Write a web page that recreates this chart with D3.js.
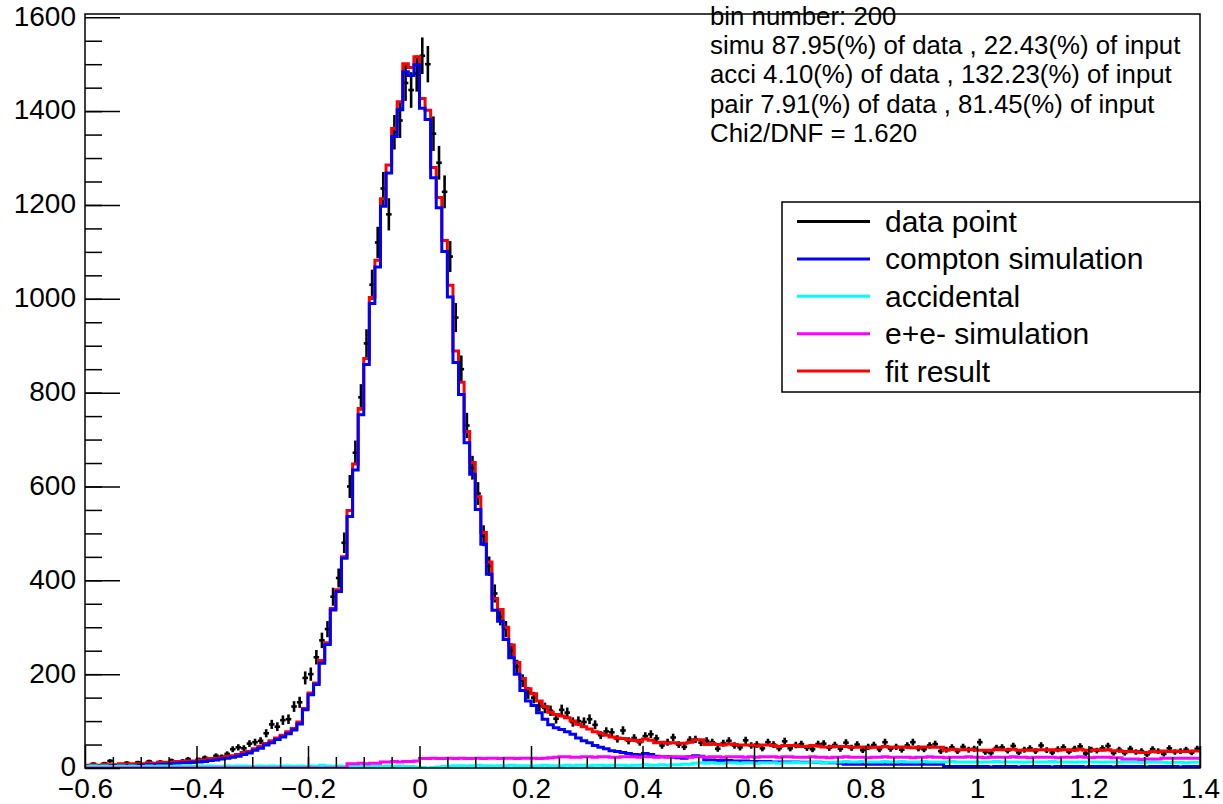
<!DOCTYPE html>
<html>
<head>
<meta charset="utf-8">
<script src="https://cdn.jsdelivr.net/npm/d3@7"></script>
<style>
  body { margin: 0; background: #fff; }
  text { font-family: "Liberation Sans", Arial, Helvetica, sans-serif; }
</style>
</head>
<body>
<svg id="chart"></svg>
<script>
// histogram binning: 200 bins of 0.01 from -0.6
const binCount = 200;
const xMin = -0.6;
const binWidth = 0.01;

const dataCounts = [
  5,9,4,10,15,6,8,11,7,12, 8,14,9,13,11,16,12,15,19,13,
  18,22,19,26,24,30,40,44,42,52, 55,58,74,93,88,102,104,131,140,192,
  200,236,272,296,365,405,480,600,672,790, 905,1030,1120,1235,1180,1355,1380,1460,1445,1480,
  1518,1500,1352,1290,1228,1090,960,850,730,640, 585,495,430,372,322,296,250,216,186,160,
  150,132,128,122,105,124,118,98,100,98, 104,92,70,78,76,62,80,58,64,55,
  68,72,63,48,55,65,50,45,60,61, 54,58,55,41,53,58,48,44,59,48,
  50,42,55,50,42,57,42,49,51,43, 40,51,52,43,49,41,54,43,50,38,
  45,49,40,55,41,45,39,48,55,42, 40,48,51,36,39,44,36,45,39,41,
  55,34,32,43,44,37,47,33,39,42, 36,48,38,33,40,44,35,41,46,31,
  39,37,42,47,32,39,32,41,34,36, 29,40,36,30,42,34,36,39,33,41
];

const comptonSim = [
  3,3,3,4,4,4,5,5,5,6, 6,7,7,8,8,9,10,11,11,12,
  13,14,16,17,19,21,23,25,29,32, 38,42,49,54,61,66,73,81,94,124,
  156,178,223,263,337,376,447,536,635,753, 860,990,1068,1197,1268,1346,1403,1484,1476,1499,
  1406,1382,1258,1194,1101,1004,864,796,693,626, 551,477,413,336,313,274,235,200,165,143,
  133,118,104,92,86,82,77,72,64,58, 54,48,44,41,37,35,33,31,29,28,
  31,29,25,24,24,23,22,21,24,26, 25,17,17,16,16,16,15,15,15,14,
  14,14,14,13,13,13,13,13,12,12, 12,12,11,11,11,10,8,8,8,8,
  8,8,8,8,8,8,8,8,8,8, 8,8,8,8,3,3,3,3,3,3,
  3,3,2,3,3,3,3,2,3,3, 3,3,3,2,3,3,3,3,3,2,
  3,3,3,3,2,3,3,3,3,3, 2,3,3,3,3,3,2,3,3,3
];

const accidental = [
  3,4,3,4,3,3,4,3,4,3, 3,4,3,4,4,3,4,3,4,3,
  4,3,4,3,3,4,3,4,4,3, 3,4,3,4,3,4,4,3,4,3,
  4,3,6,4,3,4,3,4,4,3, 4,3,4,3,4,3,4,3,3,2,
  1,0,1,2,3,4,5,5,4,5, 6,5,5,4,5,5,6,5,5,5,
  4,5,6,5,5,5,6,5,6,6, 5,6,6,5,6,6,6,5,6,6,
  7,6,6,7,6,7,7,8,8,10, 11,10,11,10,10,11,11,10,11,11,
  10,11,11,11,10,11,11,12,11,11, 12,12,11,12,12,13,14,13,13,14,
  13,13,13,14,13,13,14,13,13,13, 14,13,13,13,13,14,13,13,13,13,
  12,13,13,14,13,13,13,13,12,13, 13,13,13,14,13,13,13,12,13,13,
  13,13,12,13,13,12,13,13,13,12, 12,13,12,12,11,12,12,11,12,12
];

const pairSim = [
  0,0,0,0,0,0,0,0,0,0, 0,0,0,0,0,0,0,0,0,0,
  0,0,0,0,0,0,0,0,0,0, 0,0,0,0,0,0,0,0,0,0,
  0,0,0,0,0,0,0,9,9,10, 9,10,10,13,13,14,13,14,14,15,
  20,20,21,20,20,21,20,21,20,20, 21,20,21,21,20,21,21,20,21,21,
  21,20,21,22,23,24,24,23,23,24, 24,23,24,24,23,23,24,24,24,23,
  24,24,23,24,23,24,24,24,23,24, 24,23,24,24,23,24,24,24,23,24,
  23,24,24,24,23,24,24,23,23,23, 24,23,23,22,23,23,24,23,23,23,
  22,23,23,24,23,23,23,23,22,23, 23,24,23,23,22,23,23,23,24,23,
  23,22,23,23,23,23,24,23,23,22, 23,23,23,23,22,23,23,23,24,23,
  22,23,23,23,22,22,19,19,19,18, 19,19,19,21,21,21,21,21,21,21
];

const fitResult = [
  6,7,6,8,7,7,9,8,9,9, 9,11,10,12,12,12,14,14,15,15,
  17,17,20,20,22,25,26,29,33,35, 41,46,52,58,64,70,77,84,98,127,
  160,181,229,267,340,380,450,549,648,766, 873,1003,1082,1213,1285,1363,1420,1501,1493,1516,
  1427,1402,1280,1216,1124,1029,889,822,717,651, 578,502,439,361,338,300,262,225,191,169,
  158,143,131,119,114,111,107,100,93,88, 83,77,74,70,66,64,63,60,59,57,
  62,59,54,55,53,54,53,53,55,60, 60,50,52,50,49,51,50,49,49,49,
  47,49,49,48,46,48,48,48,46,46, 48,47,45,45,46,46,46,44,44,45,
  43,44,44,46,44,44,45,44,43,44, 45,45,44,44,38,40,39,39,40,39,
  38,38,38,40,39,39,40,38,38,38, 39,39,39,39,38,39,39,38,40,38,
  38,39,38,39,37,37,35,35,35,33, 33,35,34,36,35,36,35,35,36,36
];

const xTickValues = [-0.6, -0.4, -0.2, 0, 0.2, 0.4, 0.6, 0.8, 1, 1.2, 1.4];
const xTickLabels = ["\u22120.6", "\u22120.4", "\u22120.2", "0", "0.2", "0.4", "0.6", "0.8", "1", "1.2", "1.4"];
const yTickValues = [0, 200, 400, 600, 800, 1000, 1200, 1400, 1600];
const yTickLabels = ["0", "200", "400", "600", "800", "1000", "1200", "1400", "1600"];

const statLines = [
  "bin number: 200",
  "simu 87.95(%) of data , 22.43(%) of input",
  "acci 4.10(%) of data , 132.23(%) of input",
  "pair 7.91(%) of data , 81.45(%) of input",
  "Chi2/DNF = 1.620"
];

const legendLabels = ["data point", "compton simulation", "accidental", "e+e- simulation", "fit result"];
const legendColors = ["#000000", "#0000ff", "#00ffff", "#ff00ff", "#ff0000"];

const width = 1223, height = 804;
const margin = { top: 14, right: 23, bottom: 36, left: 85 };

const svg = d3.select("#chart")
  .attr("width", width)
  .attr("height", height);

const xScale = d3.scaleLinear()
  .domain([xMin, xMin + binCount * binWidth])
  .range([margin.left, width - margin.right]);

const yScale = d3.scaleLinear()
  .domain([0, 1607])
  .range([height - margin.bottom, margin.top]);

const binLow = d3.range(binCount).map(i => xMin + i * binWidth);

svg.append("defs").append("clipPath")
  .attr("id", "plot-clip")
  .append("rect")
  .attr("x", margin.left)
  .attr("y", margin.top)
  .attr("width", width - margin.left - margin.right)
  .attr("height", height - margin.top - margin.bottom);

const plot = svg.append("g").attr("clip-path", "url(#plot-clip)");

// data points with poisson error bars
const points = plot.append("g").attr("stroke", "#000").attr("stroke-width", 2.6);
dataCounts.forEach((v, i) => {
  const err = Math.sqrt(v);
  const xc = xScale(binLow[i] + binWidth / 2);
  points.append("line")
    .attr("x1", xScale(binLow[i])).attr("x2", xScale(binLow[i] + binWidth))
    .attr("y1", yScale(v)).attr("y2", yScale(v));
  points.append("line")
    .attr("x1", xc).attr("x2", xc)
    .attr("y1", yScale(v - err)).attr("y2", yScale(v + err));
});

const stepLine = d3.line()
  .x(d => xScale(d[0]))
  .y(d => yScale(d[1]))
  .curve(d3.curveStepAfter);

const histPoints = values => {
  const pts = values.map((v, i) => [binLow[i], v]);
  pts.push([xMin + binCount * binWidth, values[values.length - 1]]);
  return pts;
};

const drawHist = (values, color) => {
  plot.append("path")
    .attr("d", stepLine(histPoints(values)))
    .attr("fill", "none")
    .attr("stroke", color)
    .attr("stroke-width", 3)
    .attr("stroke-linejoin", "miter");
};

drawHist(fitResult, "#ff0000");
drawHist(comptonSim, "#0000ff");
drawHist(accidental, "#00ffff");
drawHist(pairSim, "#ff00ff");

// frame
svg.append("rect")
  .attr("x", margin.left)
  .attr("y", margin.top)
  .attr("width", width - margin.left - margin.right)
  .attr("height", height - margin.top - margin.bottom)
  .attr("fill", "none")
  .attr("stroke", "#000")
  .attr("stroke-width", 1.5);

// axes, ticks pointing inward like ROOT
const xAxis = d3.axisBottom(xScale)
  .tickValues(xTickValues)
  .tickFormat((d, i) => xTickLabels[i])
  .tickSizeInner(-22)
  .tickSizeOuter(0)
  .tickPadding(10);

const xMinor = d3.axisBottom(xScale)
  .tickValues(d3.range(-0.55, 1.4, 0.05))
  .tickFormat("")
  .tickSizeInner(-11)
  .tickSizeOuter(0);

const yAxis = d3.axisLeft(yScale)
  .tickValues(yTickValues)
  .tickFormat((d, i) => yTickLabels[i])
  .tickSizeInner(-35)
  .tickSizeOuter(0)
  .tickPadding(9);

const yMinor = d3.axisLeft(yScale)
  .tickValues(d3.range(50, 1600, 50))
  .tickFormat("")
  .tickSizeInner(-17)
  .tickSizeOuter(0);

const styleAxis = g => {
  g.select(".domain").remove();
  g.selectAll("line").attr("stroke", "#000").attr("stroke-width", 1.5);
  g.selectAll("text")
    .attr("fill", "#000")
    .attr("font-size", 28)
    .attr("font-family", "\"Liberation Sans\", Arial, Helvetica, sans-serif");
};

svg.append("g")
  .attr("transform", `translate(0,${height - margin.bottom})`)
  .call(xMinor).call(styleAxis);

svg.append("g")
  .attr("class", "x-axis")
  .attr("transform", `translate(0,${height - margin.bottom})`)
  .call(xAxis).call(styleAxis);

svg.append("g")
  .attr("transform", `translate(${margin.left},0)`)
  .call(yMinor).call(styleAxis);

svg.append("g")
  .attr("class", "y-axis")
  .attr("transform", `translate(${margin.left},0)`)
  .call(yAxis).call(styleAxis)
  .selectAll("text")
  .attr("dy", "0.28em");

// fit statistics text
svg.append("g")
  .selectAll("text")
  .data(statLines)
  .join("text")
  .attr("x", 710)
  .attr("y", (d, i) => 25 + i * 29.2)
  .attr("font-size", 25.8)
  .attr("fill", "#000")
  .text(d => d);

// legend
const legend = svg.append("g");
legend.append("rect")
  .attr("x", 782)
  .attr("y", 202)
  .attr("width", 418)
  .attr("height", 190)
  .attr("fill", "#fff")
  .attr("stroke", "#000")
  .attr("stroke-width", 1.5);

const entries = legend.selectAll("g.entry")
  .data(legendLabels)
  .join("g")
  .attr("class", "entry")
  .attr("transform", (d, i) => `translate(0,${221.5 + i * 37.4})`);

entries.append("line")
  .attr("x1", 797).attr("x2", 870)
  .attr("stroke", (d, i) => legendColors[i])
  .attr("stroke-width", 3);

entries.append("text")
  .attr("x", 885)
  .attr("dy", "0.35em")
  .attr("font-size", 30)
  .attr("fill", "#000")
  .text(d => d);
</script>
</body>
</html>
